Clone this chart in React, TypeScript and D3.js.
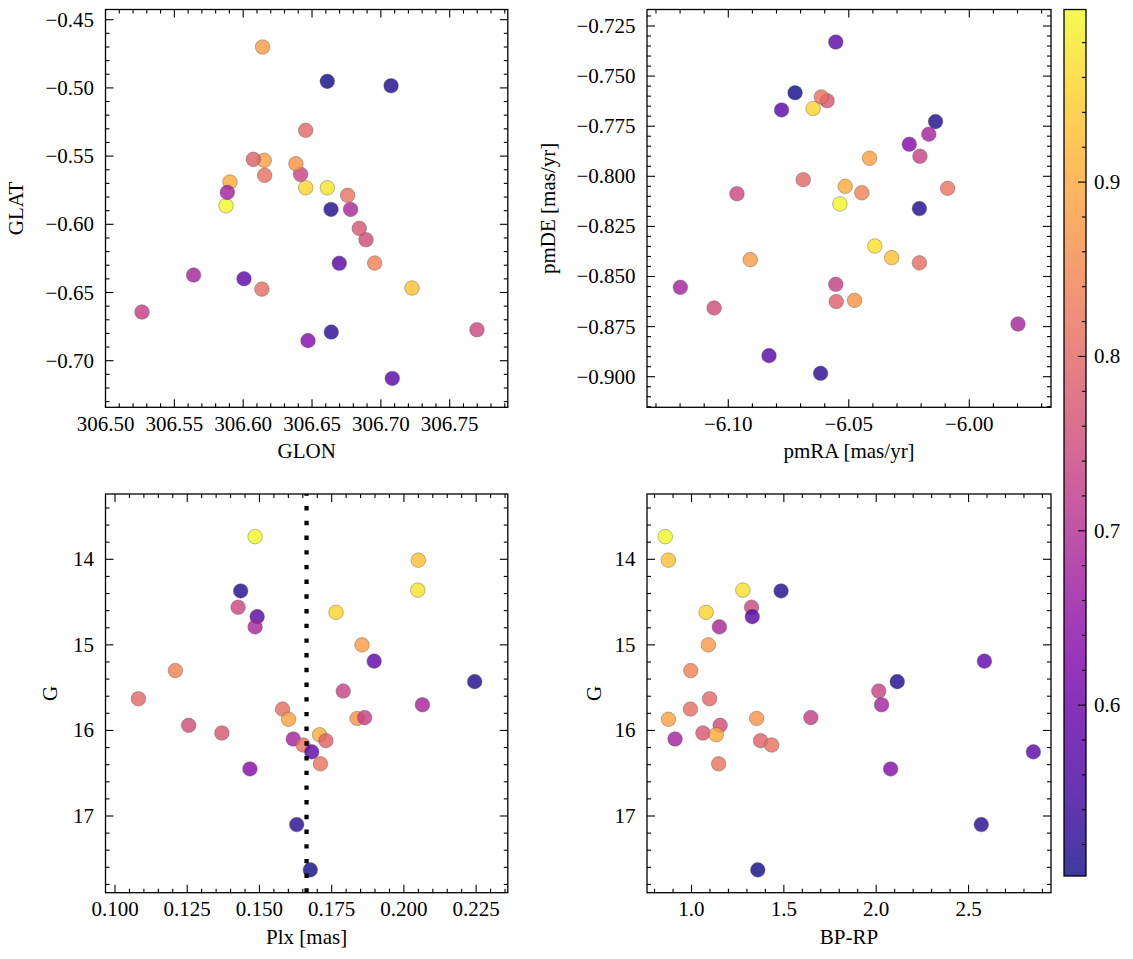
import React from "react";
import * as d3 from "d3";

// ---------------- data (one entry per star) ----------------
const prob = [0.999, 0.93, 0.97, 0.515, 0.745, 0.575, 0.955, 0.685, 0.88, 0.84,
  0.585, 0.51, 0.735, 0.68, 0.8, 0.81, 0.89, 0.87, 0.73, 0.755,
  0.77, 0.9, 0.675, 0.79, 0.815, 0.82, 0.58, 0.635, 0.52, 0.502];
const glon = [306.5875, 306.7226, 306.6611, 306.6638, 306.7698, 306.6698, 306.6454, 306.678, 306.6141, 306.6955,
  306.6006, 306.7074, 306.6417, 306.564, 306.6454, 306.6136, 306.6153, 306.6383, 306.5265, 306.6892,
  306.6843, 306.5904, 306.5885, 306.6074, 306.6156, 306.6759, 306.7083, 306.6471, 306.664, 306.6611];
const glat = [-0.5864, -0.6467, -0.5732, -0.5891, -0.6773, -0.6286, -0.5732, -0.5891, -0.47, -0.6284,
  -0.6399, -0.4984, -0.5634, -0.6372, -0.5311, -0.6475, -0.5531, -0.5556, -0.6643, -0.6113,
  -0.603, -0.569, -0.5766, -0.5524, -0.5641, -0.5788, -0.713, -0.6853, -0.679, -0.4952];
const pmra = [-6.0537, -6.0322, -6.0392, -6.0207, -6.0964, -6.0831, -6.0648, -5.9798, -6.0909, -6.0446,
  -6.0554, -6.014, -6.0205, -6.0168, -6.0689, -6.0207, -6.0414, -6.0476, -6.0554, -6.1059,
  -6.059, -6.0515, -6.1199, -6.0552, -6.0614, -6.009, -6.0779, -6.0249, -6.0617, -6.0723];
const pmde = [-0.8138, -0.8406, -0.8348, -0.8161, -0.8087, -0.8895, -0.7662, -0.8737, -0.8416, -0.8082,
  -0.733, -0.7727, -0.79, -0.779, -0.8017, -0.8432, -0.791, -0.8619, -0.8539, -0.8657,
  -0.7623, -0.805, -0.8554, -0.8625, -0.7604, -0.806, -0.7669, -0.784, -0.8983, -0.7583];
const plx = [0.1485, 0.205, 0.2048, 0.1435, 0.1426, 0.1492, 0.1765, 0.1485, 0.1855, 0.1209,
  0.1897, 0.2245, 0.179, 0.2064, 0.1081, 0.158, 0.1601, 0.1838, 0.1864, 0.1255,
  0.137, 0.1708, 0.1617, 0.173, 0.1651, 0.1711, 0.1681, 0.1467, 0.1629, 0.1676];
const gmag = [13.735, 14.01, 14.36, 14.37, 14.56, 14.67, 14.62, 14.79, 15.0, 15.3,
  15.19, 15.43, 15.54, 15.7, 15.63, 15.75, 15.87, 15.86, 15.85, 15.94,
  16.03, 16.05, 16.1, 16.12, 16.17, 16.39, 16.25, 16.45, 17.1, 17.63];
const bprp = [0.858, 0.875, 1.278, 1.485, 1.325, 1.329, 1.079, 1.151, 1.091, 0.996,
  2.586, 2.114, 2.014, 2.029, 1.098, 0.994, 0.875, 1.353, 1.646, 1.155,
  1.062, 1.134, 0.911, 1.374, 1.434, 1.147, 2.851, 2.078, 2.569, 1.359];
const plxRef = 0.1663;

// axis limits
const GLON_LIM = [306.5, 306.7922];
const GLAT_LIM = [-0.73416, -0.44252];
const PMRA_LIM = [-6.13373, -5.9661];
const PMDE_LIM = [-0.91527, -0.71677];
const PLX_LIM = [0.09671, 0.23596];
const G_LIM = [13.2369, 17.8963];
const BPRP_LIM = [0.75907, 2.9464];
const PROB_LIM = [0.502, 0.999];

// ticks
const GLON_TICKS = [306.5, 306.55, 306.6, 306.65, 306.7, 306.75];
const GLAT_TICKS = [-0.45, -0.5, -0.55, -0.6, -0.65, -0.7];
const PMRA_TICKS = [-6.1, -6.05, -6.0];
const PMDE_TICKS = [-0.725, -0.75, -0.775, -0.8, -0.825, -0.85, -0.875, -0.9];
const PLX_TICKS = [0.1, 0.125, 0.15, 0.175, 0.2, 0.225];
const G_TICKS = [14, 15, 16, 17];
const BPRP_TICKS = [1.0, 1.5, 2.0, 2.5];
const PROB_TICKS = [0.6, 0.7, 0.8, 0.9];

const FONT = "Liberation Serif, DejaVu Serif, serif";
const FS = 21;

function minorTicks(lim: number[], step: number, majors: number[]) {
  const lo = Math.min(lim[0], lim[1]);
  const hi = Math.max(lim[0], lim[1]);
  const out: number[] = [];
  for (let i = Math.ceil(lo / step - 1e-9); i <= Math.floor(hi / step + 1e-9); i++) {
    const v = i * step;
    if (!majors.some((m) => Math.abs(m - v) < step * 0.01)) out.push(v);
  }
  return out;
}

type PanelProps = {
  id: string;
  x0: number; y0: number; w: number; h: number;
  xLim: number[]; yLim: number[]; invertY?: boolean;
  xTicks: number[]; yTicks: number[]; xMinor: number; yMinor: number;
  xFmt: string; yFmt: string;
  xLabel: string; yLabel: string; yLabelX: number;
  xs: number[]; ys: number[];
  vline?: number;
};

const color = d3.scaleSequential(d3.interpolatePlasma).domain(PROB_LIM);

function Panel(p: PanelProps) {
  const x = d3.scaleLinear().domain(p.xLim).range([p.x0, p.x0 + p.w]);
  const y = d3.scaleLinear().domain(p.yLim).range(p.invertY ? [p.y0, p.y0 + p.h] : [p.y0 + p.h, p.y0]);
  const xf = d3.format(p.xFmt);
  const yf = d3.format(p.yFmt);
  const x1 = p.x0 + p.w;
  const y1 = p.y0 + p.h;
  const MJ = 8, MN = 4;
  const xMin = minorTicks(p.xLim, p.xMinor, p.xTicks);
  const yMin = minorTicks(p.yLim, p.yMinor, p.yTicks);
  const tickStyle = { stroke: "#000", strokeWidth: 1.1 };
  return (
    <g>
      <defs>
        <clipPath id={`clip-${p.id}`}>
          <rect x={p.x0} y={p.y0} width={p.w} height={p.h} />
        </clipPath>
      </defs>
      <g clipPath={`url(#clip-${p.id})`}>
        {p.xs.map((_, i) => (
          <circle key={i} cx={x(p.xs[i])} cy={y(p.ys[i])} r={7.3}
            fill={color(prob[i])} fillOpacity={0.8}
            stroke="#555" strokeWidth={0.5} strokeOpacity={0.8} />
        ))}
        {p.vline !== undefined && (
          <line x1={x(p.vline)} x2={x(p.vline)} y1={y1} y2={p.y0}
            stroke="#000" strokeWidth={4.3} strokeDasharray="4.4 10.3" />
        )}
      </g>
      {p.xTicks.map((t) => (
        <g key={"xt" + t}>
          <line x1={x(t)} x2={x(t)} y1={y1} y2={y1 - MJ} {...tickStyle} />
          <line x1={x(t)} x2={x(t)} y1={p.y0} y2={p.y0 + MJ} {...tickStyle} />
          <text x={x(t)} y={y1 + 23.5} textAnchor="middle" style={{ fontFamily: FONT, fontSize: FS }}>{xf(t)}</text>
        </g>
      ))}
      {xMin.map((t) => (
        <g key={"xm" + t}>
          <line x1={x(t)} x2={x(t)} y1={y1} y2={y1 - MN} {...tickStyle} />
          <line x1={x(t)} x2={x(t)} y1={p.y0} y2={p.y0 + MN} {...tickStyle} />
        </g>
      ))}
      {p.yTicks.map((t) => (
        <g key={"yt" + t}>
          <line x1={p.x0} x2={p.x0 + MJ} y1={y(t)} y2={y(t)} {...tickStyle} />
          <line x1={x1} x2={x1 - MJ} y1={y(t)} y2={y(t)} {...tickStyle} />
          <text x={p.x0 - 11.5} y={y(t) + 7} textAnchor="end" style={{ fontFamily: FONT, fontSize: FS }}>{yf(t)}</text>
        </g>
      ))}
      {yMin.map((t) => (
        <g key={"ym" + t}>
          <line x1={p.x0} x2={p.x0 + MN} y1={y(t)} y2={y(t)} {...tickStyle} />
          <line x1={x1} x2={x1 - MN} y1={y(t)} y2={y(t)} {...tickStyle} />
        </g>
      ))}
      <rect x={p.x0} y={p.y0} width={p.w} height={p.h} fill="none" stroke="#000" strokeWidth={1.3} />
      <text x={p.x0 + p.w / 2} y={p.id.startsWith("t") ? 458 : 943.5} textAnchor="middle"
        style={{ fontFamily: FONT, fontSize: FS }}>{p.xLabel}</text>
      <text transform={`translate(${p.yLabelX},${p.y0 + p.h / 2}) rotate(-90)`} textAnchor="middle"
        style={{ fontFamily: FONT, fontSize: FS }}>{p.yLabel}</text>
    </g>
  );
}

function Colorbar() {
  const x0 = 1064, y0 = 9.5, w = 22, h = 866.5;
  const y = d3.scaleLinear().domain(PROB_LIM).range([y0 + h, y0]);
  const stops = d3.range(0, 1.0001, 0.05);
  const minors = minorTicks(PROB_LIM, 0.02, PROB_TICKS);
  return (
    <g>
      <defs>
        <linearGradient id="cbgrad" x1="0" y1="1" x2="0" y2="0">
          {stops.map((t) => (
            <stop key={t} offset={t} stopColor={d3.interpolatePlasma(t)} stopOpacity={0.8} />
          ))}
        </linearGradient>
      </defs>
      <rect x={x0} y={y0} width={w} height={h} fill="url(#cbgrad)" />
      {PROB_TICKS.map((t) => (
        <g key={t}>
          <line x1={x0 + w} x2={x0 + w - 8} y1={y(t)} y2={y(t)} stroke="#000" strokeWidth={1.1} />
          <text x={x0 + w + 8} y={y(t) + 7} style={{ fontFamily: FONT, fontSize: FS }}>{d3.format(".1f")(t)}</text>
        </g>
      ))}
      {minors.map((t) => (
        <line key={t} x1={x0 + w} x2={x0 + w - 4} y1={y(t)} y2={y(t)} stroke="#000" strokeWidth={1.1} />
      ))}
      <rect x={x0} y={y0} width={w} height={h} fill="none" stroke="#000" strokeWidth={1.3} />
    </g>
  );
}

export default function App() {
  return (
    <svg width={1133} height={959} viewBox="0 0 1133 959"
      style={{ position: "absolute", left: 0, top: 0, background: "#fff" }}>
      <rect x={0} y={0} width={1133} height={959} fill="#fff" />
      <Panel id="tl" x0={105.5} y0={9.5} w={402.3} h={397.8}
        xLim={GLON_LIM} yLim={GLAT_LIM} xTicks={GLON_TICKS} yTicks={GLAT_TICKS}
        xMinor={0.01} yMinor={0.01} xFmt=".2f" yFmt=".2f"
        xLabel="GLON" yLabel="GLAT" yLabelX={23} xs={glon} ys={glat} />
      <Panel id="tr" x0={647} y0={9.5} w={404} h={397.8}
        xLim={PMRA_LIM} yLim={PMDE_LIM} xTicks={PMRA_TICKS} yTicks={PMDE_TICKS}
        xMinor={0.01} yMinor={0.005} xFmt=".2f" yFmt=".3f"
        xLabel="pmRA [mas/yr]" yLabel="pmDE [mas/yr]" yLabelX={555} xs={pmra} ys={pmde} />
      <Panel id="bl" x0={105.5} y0={494} w={402.3} h={398.7}
        xLim={PLX_LIM} yLim={G_LIM} invertY xTicks={PLX_TICKS} yTicks={G_TICKS}
        xMinor={0.005} yMinor={0.2} xFmt=".3f" yFmt="d"
        xLabel="Plx [mas]" yLabel="G" yLabelX={57} xs={plx} ys={gmag} vline={plxRef} />
      <Panel id="br" x0={647} y0={494} w={404} h={398.7}
        xLim={BPRP_LIM} yLim={G_LIM} invertY xTicks={BPRP_TICKS} yTicks={G_TICKS}
        xMinor={0.1} yMinor={0.2} xFmt=".1f" yFmt="d"
        xLabel="BP-RP" yLabel="G" yLabelX={601} xs={bprp} ys={gmag} />
      <Colorbar />
    </svg>
  );
}
